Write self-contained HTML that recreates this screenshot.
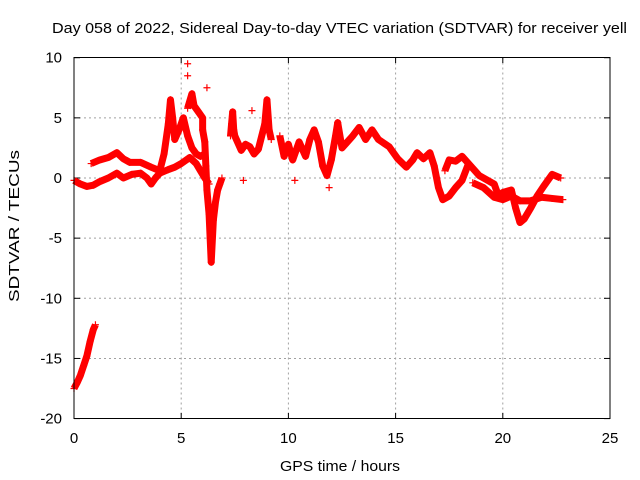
<!DOCTYPE html>
<html><head><meta charset="utf-8"><style>
body{margin:0;background:#fff;}
svg{display:block;font-family:"Liberation Sans",sans-serif;}
</style></head><body>
<svg id="chart" width="640" height="480" viewBox="0 0 640 480">
<rect width="640" height="480" fill="#fff"/>
<text x="52" y="33" font-size="15" textLength="575" lengthAdjust="spacingAndGlyphs" fill="#000">Day 058 of 2022, Sidereal Day-to-day VTEC variation (SDTVAR) for receiver yell</text>
<text x="280" y="471" font-size="15" textLength="120" lengthAdjust="spacingAndGlyphs">GPS time / hours</text>
<text transform="translate(19,302) rotate(-90)" font-size="15" textLength="152" lengthAdjust="spacingAndGlyphs">SDTVAR / TECUs</text>
<g id="grid"></g><g id="ticks"></g><g id="marks"></g>
<rect x="74" y="57.5" width="536" height="361" fill="none" stroke="#000" stroke-width="1"/>
</svg>
<script>
const xTicks=[0,5,10,15,20,25];
const yTicks=[-20,-15,-10,-5,0,5,10];
const trackNeg=[[0,-17.5],[0.15,-17.0],[0.3,-16.4],[0.45,-15.6],[0.6,-14.8],[0.75,-13.6],[0.9,-12.6],[1.0,-12.2]];
const trackLow=[[0,-0.2],[0.3,-0.5],[0.6,-0.7],[0.9,-0.6],[1.2,-0.3],[1.6,0.0],[2.0,0.4],[2.3,0.0],[2.7,0.3],[3.1,0.4],[3.4,0.0],[3.6,-0.5],[3.8,0.0],[4.0,0.4],[4.4,0.7],[4.7,0.9],[5.0,1.2],[5.4,1.7],[5.7,1.2],[5.9,0.6],[6.1,0.0],[6.3,-0.5]];
const trackUp=[[0.8,1.2],[1.2,1.5],[1.6,1.7],[2.0,2.1],[2.3,1.6],[2.6,1.3],[3.1,1.3],[3.6,0.9],[4.0,0.6],[4.2,2.0],[4.4,4.5],[4.5,6.5],[4.6,5.0],[4.7,3.2],[4.9,4.0],[5.1,5.0],[5.3,3.5],[5.5,2.5],[5.7,2.0],[5.9,1.8],[6.1,2.0]];
const trackSpike=[[5.3,5.8],[5.5,7.0],[5.6,6.0],[5.8,5.5],[6.0,5.0],[6.0,4.0],[6.1,3.0],[6.15,1.0],[6.2,-1.0],[6.3,-3.0],[6.35,-5.0],[6.4,-7.0],[6.5,-3.5],[6.6,-2.0],[6.7,-1.0],[6.8,-0.5],[6.9,0.0]];
const trackMid=[[7.3,3.5],[7.35,4.5],[7.4,5.5],[7.45,4.0],[7.5,3.5],[7.8,2.3],[8.0,2.8],[8.2,2.6],[8.4,2.0],[8.6,2.4],[8.9,4.5],[9.0,6.5],[9.1,4.0],[9.2,3.2]];
const trackMain=[[9.6,3.5],[9.8,1.8],[10.0,2.8],[10.2,1.5],[10.5,3.0],[10.8,1.8],[11.0,3.2],[11.2,4.0],[11.4,3.0],[11.6,1.0],[11.8,0.2],[12.0,1.5],[12.2,3.5],[12.3,4.6],[12.5,2.5],[12.7,2.9],[13.0,3.5],[13.3,4.2],[13.6,3.2],[13.9,4.0],[14.2,3.2],[14.7,2.6],[15.1,1.6],[15.5,0.9],[15.8,1.5],[16.0,2.1],[16.3,1.6],[16.6,2.1],[16.8,1.0],[17.0,-0.8],[17.2,-1.8],[17.5,-1.5],[17.8,-0.8],[18.1,-0.2],[18.4,1.2]];
const trackBranch=[[17.3,0.6],[17.5,1.5],[17.8,1.4],[18.1,1.8],[18.5,1.0],[18.9,0.2],[19.3,-0.2],[19.6,-0.5],[19.8,-1.5],[20.0,-1.2],[20.4,-1.0],[20.6,-2.5],[20.8,-3.7],[21.0,-3.4],[21.3,-2.5],[21.6,-1.5],[21.9,-0.7],[22.3,0.3],[22.7,0.0]];
const trackLower=[[18.6,-0.4],[19.1,-0.8],[19.6,-1.6],[20.0,-1.8],[20.4,-1.5],[20.8,-1.9],[21.3,-1.9],[21.8,-1.6],[22.3,-1.7],[22.8,-1.8]];
const scatterPts=[[5.3,9.5],[5.3,8.5],[6.2,7.5],[9.0,5.0],[11.9,-0.8],[10.3,-0.2],[8.3,5.6],[7.9,-0.2]];
const tracks=[trackNeg,trackLow,trackUp,trackSpike,trackMid,trackMain,trackBranch,trackLower];
const X=h=>74+h*21.44, Y=v=>178-v*12.03;
const NS='http://www.w3.org/2000/svg';
const grid=document.getElementById('grid'),ticks=document.getElementById('ticks'),marks=document.getElementById('marks');
function mk(tag,attrs,parent){const e=document.createElementNS(NS,tag);for(const k in attrs)e.setAttribute(k,attrs[k]);parent.appendChild(e);return e;}
xTicks.forEach(t=>{const x=X(t);
 if(t>0&&t<25){const g=mk('line',{x1:x,x2:x,y1:57.5,y2:418.5,stroke:'#a0a0a0','stroke-dasharray':'2,3'},grid);
 
 }
 mk('line',{x1:x,x2:x,y1:418.5,y2:413,stroke:'#000'},ticks);mk('line',{x1:x,x2:x,y1:57.5,y2:63,stroke:'#000'},ticks);
 const l=mk('text',{x:x,y:443,'font-size':15,'text-anchor':'middle'},ticks);l.textContent=t;
 
 });
yTicks.forEach(t=>{const y=Y(t);
 if(t>-20&&t<10){const g=mk('line',{x1:74,x2:610,y1:y,y2:y,stroke:'#a0a0a0','stroke-dasharray':'2,3'},grid);
 
 }
 mk('line',{x1:74,x2:80,y1:y,y2:y,stroke:'#000'},ticks);mk('line',{x1:610,x2:604,y1:y,y2:y,stroke:'#000'},ticks);
 const l=mk('text',{x:62,y:y+5,'font-size':15,'text-anchor':'end'},ticks);l.textContent=t;
 
 });
function plus(h,v){const x=X(h),y=Y(v);
 const p=mk('path',{d:`M${x-3.5} ${y}h7M${x} ${y-3.5}v7`,stroke:'#f00','stroke-width':1.2},marks);
 
 }
tracks.forEach(tr=>{
 const pl=mk('polyline',{points:tr.map(p=>X(p[0])+','+Y(p[1])).join(' '),fill:'none',stroke:'#f00','stroke-width':7,'stroke-linejoin':'round'},marks);
 
 
 tr.forEach(p=>plus(p[0],p[1]));});
scatterPts.forEach(p=>plus(p[0],p[1]));
</script>
</body></html>
